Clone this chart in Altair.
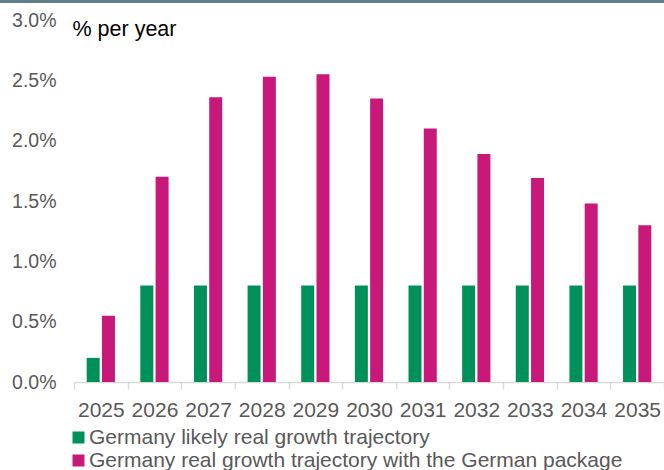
import altair as alt
import pandas as pd

years = ["2025", "2026", "2027", "2028", "2029", "2030", "2031", "2032", "2033", "2034", "2035"]
likely = [0.2, 0.8, 0.8, 0.8, 0.8, 0.8, 0.8, 0.8, 0.8, 0.8, 0.8]
package = [0.55, 1.70, 2.36, 2.53, 2.55, 2.35, 2.10, 1.89, 1.69, 1.48, 1.30]
series_names = [
    "Germany likely real growth trajectory",
    "Germany real growth trajectory with the German package",
]
colors = ["#00915A", "#C8187A"]
y_ticks = [0.0, 0.5, 1.0, 1.5, 2.0, 2.5, 3.0]

rows = []
for i, yr in enumerate(years):
    rows.append({"year": yr, "series": series_names[0], "value": likely[i]})
    rows.append({"year": yr, "series": series_names[1], "value": package[i]})
df = pd.DataFrame(rows)

FONT = "Liberation Sans"

bars = alt.Chart(df).mark_bar().encode(
    x=alt.X(
        "year:N",
        sort=years,
        scale=alt.Scale(paddingInner=0, paddingOuter=0),
        axis=alt.Axis(
            title=None,
            labelAngle=0,
            labelFont=FONT,
            labelFontSize=21,
            labelColor="#595959",
            labelPadding=10,
            tickBand="extent",
            tickSize=7,
            tickColor="#d9d9d9",
            tickWidth=1.5,
            domainColor="#d9d9d9",
            domainWidth=1.5,
            grid=False,
            labelOverlap=False,
        ),
    ),
    xOffset=alt.XOffset(
        "series:N",
        sort=series_names,
        scale=alt.Scale(paddingInner=0.15, paddingOuter=0.83),
    ),
    y=alt.Y(
        "value:Q",
        scale=alt.Scale(domain=[0, 3], nice=False),
        axis=alt.Axis(
            values=y_ticks,
            labelExpr="format(datum.value, '.1f') + '%'",
            labelFont=FONT,
            labelFontSize=19.5,
            labelColor="#595959",
            labelPadding=18,
            ticks=False,
            domain=False,
            grid=False,
            title="% per year",
            titleAngle=0,
            titleX=-2,
            titleY=15,
            titleAlign="left",
            titleBaseline="alphabetic",
            titleFont=FONT,
            titleFontSize=21.5,
            titleFontWeight="normal",
            titleColor="#000000",
        ),
    ),
    color=alt.Color(
        "series:N",
        sort=series_names,
        scale=alt.Scale(domain=series_names, range=colors),
        legend=alt.Legend(
            title=None,
            orient="none",
            legendX=-6,
            legendY=407,
            direction="vertical",
            labelFont=FONT,
            labelFontSize=21,
            labelColor="#595959",
            symbolType="square",
            symbolSize=144,
            symbolStrokeWidth=0,
            labelOffset=0,
            rowPadding=1,
            padding=0,
            labelLimit=700,
        ),
    ),
)

border = alt.Chart(pd.DataFrame({"a": [0]})).mark_rule(
    color="#607F88", strokeWidth=3
).encode(x=alt.value(-74), x2=alt.value(590), y=alt.value(-18.5))

chart = alt.layer(bars, border).properties(
    width=590,
    height=362,
    padding={"left": 74, "top": 20, "right": 0, "bottom": 88},
    autosize=alt.AutoSizeParams(type="none"),
    background="white",
).configure_view(stroke=None)

chart.save("out.html", embed_options={"renderer": "svg", "actions": False})
